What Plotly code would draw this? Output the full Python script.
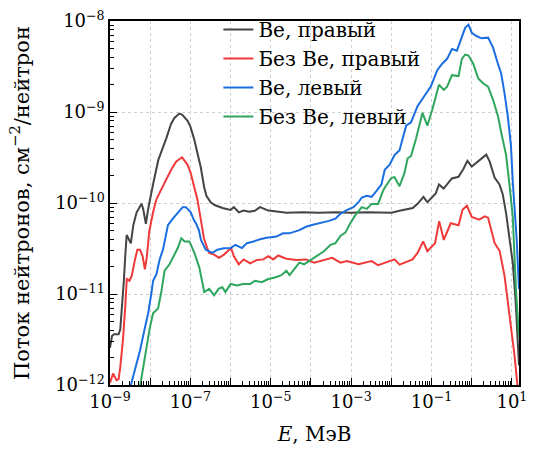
import plotly.graph_objects as go

# ---- data (E in MeV, flux in cm^-2 per neutron) ----
E_be_right = [1.0e-9, 1.12e-9, 1.26e-9, 1.64e-9, 1.8e-9, 2.0e-9, 2.2e-9, 2.4e-9, 2.6e-9, 3.3e-9,
              3.8e-9, 4.6e-9, 6.1e-9, 6.7e-9, 7.8e-9, 8.9e-9, 1.0e-8, 1.2e-8, 1.6e-8, 2.3e-8,
              2.5e-8, 3.3e-8, 4.0e-8, 5.3e-8, 6.3e-8, 8.5e-8, 1.0e-7, 1.23e-7, 1.6e-7, 1.8e-7,
              2.2e-7, 2.5e-7, 3.2e-7, 4.0e-7, 6.3e-7, 1.0e-6, 1.2e-6, 1.6e-6, 2.1e-6, 2.9e-6,
              4.0e-6, 5.4e-6, 8.7e-6, 1.6e-5, 2.5e-5, 6.3e-5, 1.6e-4, 4.0e-4, 1.0e-3, 2.5e-3,
              6.3e-3, 1.0e-2, 1.6e-2, 2.5e-2, 3.4e-2, 4.5e-2, 6.3e-2, 7.9e-2, 0.127, 0.153,
              0.2, 0.32, 0.47, 0.63, 0.78, 1.0, 1.75, 2.3, 2.8, 3.7,
              4.9, 5.9, 7.2, 8.7, 10.5, 12.4, 15.0]
F_be_right = [2.56e-12, 3.45e-12, 3.62e-12, 3.62e-12, 4.1e-12, 6.95e-12, 1.35e-11, 2.63e-11, 4.45e-11, 3.6e-11,
              5.7e-11, 7.9e-11, 9.8e-11, 8.6e-11, 5.9e-11, 8.6e-11, 1.16e-10, 1.67e-10, 3.0e-10, 4.5e-10,
              5.1e-10, 7.4e-10, 8.6e-10, 9.6e-10, 9.3e-10, 8.0e-10, 6.9e-10, 5.1e-10, 3.2e-10, 2.5e-10,
              1.5e-10, 1.2e-10, 1.02e-10, 9.5e-11, 8.8e-11, 8.4e-11, 9.0e-11, 7.9e-11, 8.25e-11, 8.0e-11,
              8.2e-11, 9.0e-11, 8.25e-11, 8.0e-11, 7.8e-11, 7.9e-11, 7.8e-11, 7.9e-11, 7.8e-11, 7.9e-11,
              7.9e-11, 7.8e-11, 8.2e-11, 8.6e-11, 8.8e-11, 9.8e-11, 1.17e-10, 1.02e-10, 1.27e-10, 1.6e-10,
              1.44e-10, 1.86e-10, 1.94e-10, 2.4e-10, 2.9e-10, 2.52e-10, 3.05e-10, 3.4e-10, 2.85e-10, 1.9e-10,
              1.6e-10, 1.25e-10, 7.6e-11, 3.9e-11, 2.2e-11, 8.2e-12, 1.64e-12]

E_nobe_right = [1.0e-9, 1.19e-9, 1.45e-9, 1.64e-9, 1.8e-9, 2.09e-9, 2.38e-9, 2.62e-9, 3.06e-9, 3.48e-9,
                4.19e-9, 4.8e-9, 5.56e-9, 6.47e-9, 7.37e-9, 8.1e-9, 8.92e-9, 9.44e-9, 1.18e-8, 1.43e-8,
                1.89e-8, 2.51e-8, 3.32e-8, 4.41e-8, 6.19e-8, 8.53e-8, 1.02e-7, 1.23e-7, 1.49e-7, 1.8e-7,
                2.17e-7, 2.62e-7, 2.94e-7, 3.89e-7, 5.16e-7, 6.84e-7, 9.06e-7, 1.03e-6, 1.2e-6, 1.6e-6,
                2.12e-6, 3.07e-6, 4.48e-6, 6.54e-6, 8.67e-6, 1.15e-5, 1.53e-5, 2.44e-5, 4.28e-5, 7.54e-5,
                1.2e-4, 2.07e-4, 3.38e-4, 5.4e-4, 7.87e-4, 1.52e-3, 3.23e-3, 4.69e-3, 6.84e-3, 1.2e-2,
                1.6e-2, 3.38e-2, 4.48e-2, 6.19e-2, 7.87e-2, 0.122, 0.155, 0.202, 0.30, 0.47,
                0.59, 0.76, 1.0, 1.53, 2.12, 2.55, 3.72, 4.94, 6.54, 8.67,
                11.5, 15.0]
F_nobe_right = [1.05e-12, 1.34e-12, 1.13e-12, 1.16e-12, 1.57e-12, 3.05e-12, 6.95e-12, 1.46e-11, 1.40e-11, 1.59e-11,
                2.4e-11, 3.07e-11, 3.07e-11, 2.61e-11, 1.87e-11, 2.4e-11, 3.62e-11, 4.84e-11, 7.9e-11, 1.1e-10,
                1.41e-10, 1.81e-10, 2.32e-10, 2.85e-10, 3.18e-10, 2.63e-10, 2.14e-10, 1.53e-10, 1.1e-10, 6.73e-11,
                4.1e-11, 3.2e-11, 2.83e-11, 2.71e-11, 2.5e-11, 2.71e-11, 3.07e-11, 3.2e-11, 2.61e-11, 2.12e-11,
                2.4e-11, 2.17e-11, 2.36e-11, 2.4e-11, 2.61e-11, 2.4e-11, 2.65e-11, 2.44e-11, 2.36e-11, 2.4e-11,
                2.21e-11, 2.38e-11, 2.5e-11, 2.21e-11, 2.3e-11, 2.12e-11, 2.3e-11, 2.07e-11, 2.21e-11, 2.4e-11,
                2.1e-11, 2.4e-11, 2.83e-11, 3.78e-11, 2.95e-11, 3.62e-11, 6.32e-11, 3.93e-11, 5.99e-11, 5.7e-11,
                8.41e-11, 9.35e-11, 7.02e-11, 6.56e-11, 7.12e-11, 6.9e-11, 3.62e-11, 2.97e-11, 1.59e-11, 5.9e-12,
                2.19e-12, 6.7e-13]

E_be_left = [2.94e-9, 4.19e-9, 5.56e-9, 7.37e-9, 8.92e-9, 1.08e-8, 1.18e-8, 1.43e-8, 1.72e-8, 2.08e-8,
             2.76e-8, 3.66e-8, 4.85e-8, 6.43e-8, 7.75e-8, 1.02e-7, 1.23e-7, 1.38e-7, 1.63e-7, 1.83e-7,
             2.42e-7, 3.54e-7, 4.69e-7, 6.84e-7, 1.0e-6, 1.32e-6, 1.92e-6, 2.55e-6, 3.72e-6, 5.4e-6,
             7.87e-6, 1.15e-5, 1.39e-5, 2.02e-5, 2.89e-5, 5.16e-5, 7.54e-5, 1.0e-4, 1.92e-4, 2.79e-4,
             4.07e-4, 5.4e-4, 8.0e-4, 1.14e-3, 1.52e-3, 1.84e-3, 2.44e-3, 3.23e-3, 4.28e-3, 5.68e-3,
             6.84e-3, 9.06e-3, 1.2e-2, 1.6e-2, 2.33e-2, 3.09e-2, 4.48e-2, 6.54e-2, 9.55e-2, 0.139,
             0.184, 0.244, 0.323, 0.428, 0.568, 0.686, 0.83, 1.0, 1.32, 1.75,
             2.55, 3.38, 4.48, 5.4, 6.54, 7.87, 9.44, 10.6, 13.1, 15.0]
F_be_left = [8.2e-13, 1.45e-12, 2.38e-12, 4.24e-12, 6.14e-12, 1.05e-11, 1.40e-11, 1.65e-11, 2.4e-11, 3.07e-11,
             5.7e-11, 6.73e-11, 7.9e-11, 9.0e-11, 9.0e-11, 7.9e-11, 6.45e-11, 5.95e-11, 5.04e-11, 3.93e-11,
             3.07e-11, 2.83e-11, 3.07e-11, 3.18e-11, 3.2e-11, 3.47e-11, 3.2e-11, 3.62e-11, 3.78e-11, 4.0e-11,
             4.15e-11, 4.28e-11, 4.28e-11, 4.64e-11, 4.64e-11, 5.04e-11, 5.48e-11, 5.7e-11, 6.05e-11, 6.36e-11,
             6.73e-11, 7.62e-11, 8.4e-11, 9.0e-11, 1.02e-10, 1.15e-10, 1.2e-10, 1.17e-10, 1.36e-10, 1.6e-10,
             2.32e-10, 2.63e-10, 3.36e-10, 3.81e-10, 7.07e-10, 7.68e-10, 1.16e-9, 1.49e-9, 1.9e-9, 2.88e-9,
             3.39e-9, 3.84e-9, 4.92e-9, 4.72e-9, 6.56e-9, 8.4e-9, 9.12e-9, 7.43e-9, 6.84e-9, 6.45e-9,
             6.56e-9, 5.13e-9, 3.39e-9, 2.65e-9, 1.61e-9, 9.06e-10, 4.31e-10, 1.6e-10, 4.1e-11, 1.13e-11]

E_nobe_left = [5.31e-9, 6.77e-9, 8.1e-9, 9.77e-9, 1.18e-8, 1.57e-8, 1.89e-8, 2.28e-8, 3.02e-8, 4.01e-8,
               4.85e-8, 5.95e-8, 7.2e-8, 9.44e-8, 1.26e-7, 1.67e-7, 2.21e-7, 2.94e-7, 3.89e-7, 5.04e-7,
               6.2e-7, 7.47e-7, 1.0e-6, 1.45e-6, 2.03e-6, 3.07e-6, 4.07e-6, 5.95e-6, 8.67e-6, 1.26e-5,
               1.84e-5, 2.44e-5, 2.94e-5, 3.89e-5, 5.16e-5, 6.77e-5, 1.0e-4, 1.45e-4, 2.1e-4, 3.07e-4,
               4.07e-4, 5.4e-4, 7.16e-4, 9.44e-4, 1.26e-3, 1.84e-3, 2.44e-3, 3.23e-3, 4.69e-3, 6.2e-3,
               6.84e-3, 1.0e-2, 1.2e-2, 1.6e-2, 2.12e-2, 2.55e-2, 3.09e-2, 4.1e-2, 5.95e-2, 7.87e-2,
               0.105, 0.153, 0.202, 0.244, 0.323, 0.47, 0.568, 0.686, 0.83, 1.09,
               1.45, 1.92, 2.55, 3.38, 4.48, 5.4, 7.16, 8.67, 10.5, 12.6, 15.0]
F_nobe_left = [8.4e-13, 1.57e-12, 2.58e-12, 4.24e-12, 6.14e-12, 6.95e-12, 1.05e-11, 1.8e-11, 2.12e-11, 2.71e-11,
               3.2e-11, 4.1e-11, 3.78e-11, 3.78e-11, 2.83e-11, 1.95e-11, 1.05e-11, 1.14e-11, 9.68e-12, 1.14e-11,
               1.19e-11, 1.05e-11, 1.29e-11, 1.24e-11, 1.29e-11, 1.29e-11, 1.4e-11, 1.35e-11, 1.46e-11, 1.52e-11,
               1.61e-11, 1.8e-11, 1.61e-11, 1.89e-11, 2.21e-11, 2.12e-11, 2.36e-11, 2.61e-11, 2.95e-11, 3.47e-11,
               3.62e-11, 4.34e-11, 4.72e-11, 5.95e-11, 7.3e-11, 9.0e-11, 8.6e-11, 9.77e-11, 9.77e-11, 1.36e-10,
               1.47e-10, 1.89e-10, 1.92e-10, 1.53e-10, 2.14e-10, 3.1e-10, 3.28e-10, 5.09e-10, 9.8e-10, 7.07e-10,
               1.07e-9, 1.99e-9, 1.75e-9, 1.9e-9, 2.54e-9, 2.48e-9, 3.84e-9, 4.28e-9, 4.17e-9, 3.39e-9,
               2.34e-9, 2.07e-9, 1.9e-9, 1.37e-9, 9.06e-10, 5.99e-10, 3.36e-10, 1.6e-10, 7.02e-11, 1.13e-11, 3.36e-12]

series_names = ["Ве, правый", "Без Ве, правый", "Ве, левый", "Без Ве, левый"]
series_colors = ["#444444", "#f03a3a", "#1a6ee0", "#2ea65e"]

x_exponents = [-9, -8, -7, -6, -5, -4, -3, -2, -1, 0, 1]
x_labelled = [-9, -7, -5, -3, -1, 1]
y_exponents = [-12, -11, -10, -9, -8]

x_tickvals = [10.0 ** k for k in x_exponents]
x_ticktext = [("10<sup>%s</sup>" % str(k).replace("-", "−")) if k in x_labelled else "" for k in x_exponents]
y_tickvals = [10.0 ** k for k in y_exponents]
y_ticktext = ["10<sup>%s</sup>" % str(k).replace("-", "−") for k in y_exponents]
x_minor = [m * 10.0 ** k for k in x_exponents for m in range(2, 10)]
y_minor = [m * 10.0 ** k for k in y_exponents[:-1] for m in range(2, 10)]

FONT = "DejaVu Serif"

fig = go.Figure()
for xs, ys, name, col in zip([E_be_right, E_nobe_right, E_be_left, E_nobe_left],
                             [F_be_right, F_nobe_right, F_be_left, F_nobe_left],
                             series_names, series_colors):
    fig.add_trace(go.Scatter(x=xs, y=ys, mode="lines", name=name,
                             line=dict(color=col, width=2)))

def axis_style(minor_vals):
    return dict(
        type="log", showline=True, linecolor="black", linewidth=1.5, mirror=True,
        ticks="inside", ticklen=7, tickwidth=1, tickcolor="black",
        showgrid=True, gridcolor="#cfcfcf", gridwidth=1, griddash="dot",
        zeroline=False, tickmode="array",
        tickfont=dict(family=FONT, size=18, color="black"),
        minor=dict(ticks="inside", ticklen=4, tickwidth=1, tickcolor="black",
                   tickmode="array", tickvals=minor_vals, showgrid=False),
    )

fig.update_layout(
    width=535, height=453,
    margin=dict(l=110, r=8, t=14, b=68),
    paper_bgcolor="white", plot_bgcolor="white",
    font=dict(family=FONT, size=20, color="black"),
    xaxis=dict(axis_style(x_minor), range=[-9, 1.176], tickvals=x_tickvals, ticktext=x_ticktext,
               title=dict(text="<i>E</i>, МэВ", font=dict(family=FONT, size=20), standoff=16)),
    yaxis=dict(axis_style(y_minor), range=[-12, -8], tickvals=y_tickvals, ticktext=y_ticktext,
               title=dict(text="Поток нейтронов, см<sup>−2</sup>/нейтрон", font=dict(family=FONT, size=21), standoff=20)),
    legend=dict(x=0.265, y=1.03, xanchor="left", yanchor="top", bgcolor="rgba(0,0,0,0)",
                borderwidth=0, font=dict(family=FONT, size=20), tracegroupgap=0),
    showlegend=True,
)

fig.write_html("out.html")
